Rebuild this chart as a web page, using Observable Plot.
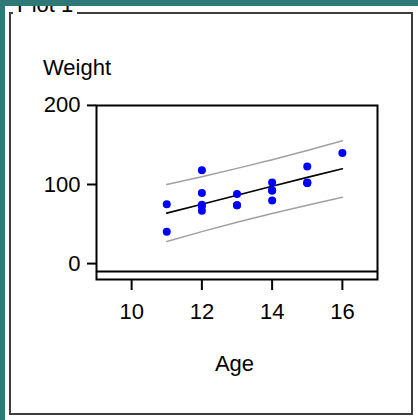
<!DOCTYPE html>
<html>
<head>
<meta charset="utf-8">
<script src="https://cdn.jsdelivr.net/npm/d3@7"></script>
<script src="https://cdn.jsdelivr.net/npm/@observablehq/plot@0.6"></script>
<style>
  html, body { margin: 0; padding: 0; }
  body { width: 418px; height: 420px; position: relative; overflow: hidden; background: #ffffff;
         font-family: "Liberation Sans", Arial, sans-serif; }
  .teal { position: absolute; background: #2e7878; z-index: 5; }
  .group { position: absolute; left: 9px; top: 12px; width: 404px; height: 403px;
           box-sizing: border-box; border: 2px solid #3c3c3c; }
  .lbl { position: absolute; font-size: 22px; line-height: 22px; color: #000; white-space: nowrap; }
  #chart { position: absolute; left: 0; top: 0; }
  #chart svg { background: transparent !important; }
</style>
</head>
<body>
<div class="group"></div>
<div class="lbl" style="left:13px; top:-5.6px; background:#fff; padding:0 4px;">Plot 1</div>
<div class="teal" style="left:0; top:0; width:418px; height:6px;"></div>
<div class="teal" style="left:0; top:0; width:5px; height:420px;"></div>
<div class="lbl" style="left:43px; top:57.4px;">Weight</div>
<div class="lbl" style="left:234.5px; top:353.4px; transform:translateX(-50%);">Age</div>
<div id="chart"></div>
<script>
// Observed points (Age, Weight)
const ages    = [14, 13, 13, 14, 14, 12, 12, 15, 13, 12, 11, 14, 12, 15, 16, 12, 15, 11, 15];
const weights = [112.5, 84, 98, 102.5, 102.5, 83, 84.5, 112.5, 84, 99.5, 50.5, 90, 77, 112, 150, 128, 133, 85, 112];
// Fitted line and prediction band
const fitAges    = [11, 12, 13, 14, 15, 16];
const fitWeights = [73.9, 85.2, 96.5, 107.8, 119.1, 130.0];
const upperBand  = [110, 120, 130.5, 141.5, 153, 165.5];
const lowerBand  = [38, 50.5, 62.5, 73.5, 84, 94];
// Axis ticks
const xTicks = [10, 12, 14, 16];
const yTicks = [0, 100, 200];

const points = ages.map((a, i) => ({age: a, weight: weights[i]}));
const fit = fitAges.map((a, i) => ({age: a, fit: fitWeights[i], hi: upperBand[i], lo: lowerBand[i]}));

const chart = Plot.plot({
  width: 418,
  height: 420,
  marginLeft: 96,
  marginRight: 41,
  marginTop: 105,
  marginBottom: 141,
  style: {background: "transparent", fontFamily: "Liberation Sans, Arial, sans-serif", fontSize: "22px", color: "#000"},
  x: {domain: [9, 17]},
  y: {domain: [-10, 210]},
  marks: [
    Plot.ruleY([0], {stroke: "#000", strokeWidth: 2}),
    Plot.line(fit, {x: "age", y: "hi", stroke: "#a0a0a0", strokeWidth: 1.5}),
    Plot.line(fit, {x: "age", y: "lo", stroke: "#a0a0a0", strokeWidth: 1.5}),
    Plot.line(fit, {x: "age", y: "fit", stroke: "#000", strokeWidth: 1.6}),
    Plot.dot(points, {x: "age", y: "weight", r: 4, fill: "#0000ff", stroke: "none"}),
    Plot.frame({stroke: "#000", strokeWidth: 2}),
    Plot.axisX({ticks: xTicks, tickSize: 11, tickPadding: 13, tickFormat: d3.format("d"), label: null, strokeWidth: 2, fontSize: 22}),
    Plot.axisY({ticks: yTicks, tickSize: 9, tickPadding: 7, tickFormat: d3.format("d"), label: null, strokeWidth: 2, dy: -8, fontSize: 22})
  ]
});
document.getElementById("chart").appendChild(chart);
</script>
</body>
</html>
